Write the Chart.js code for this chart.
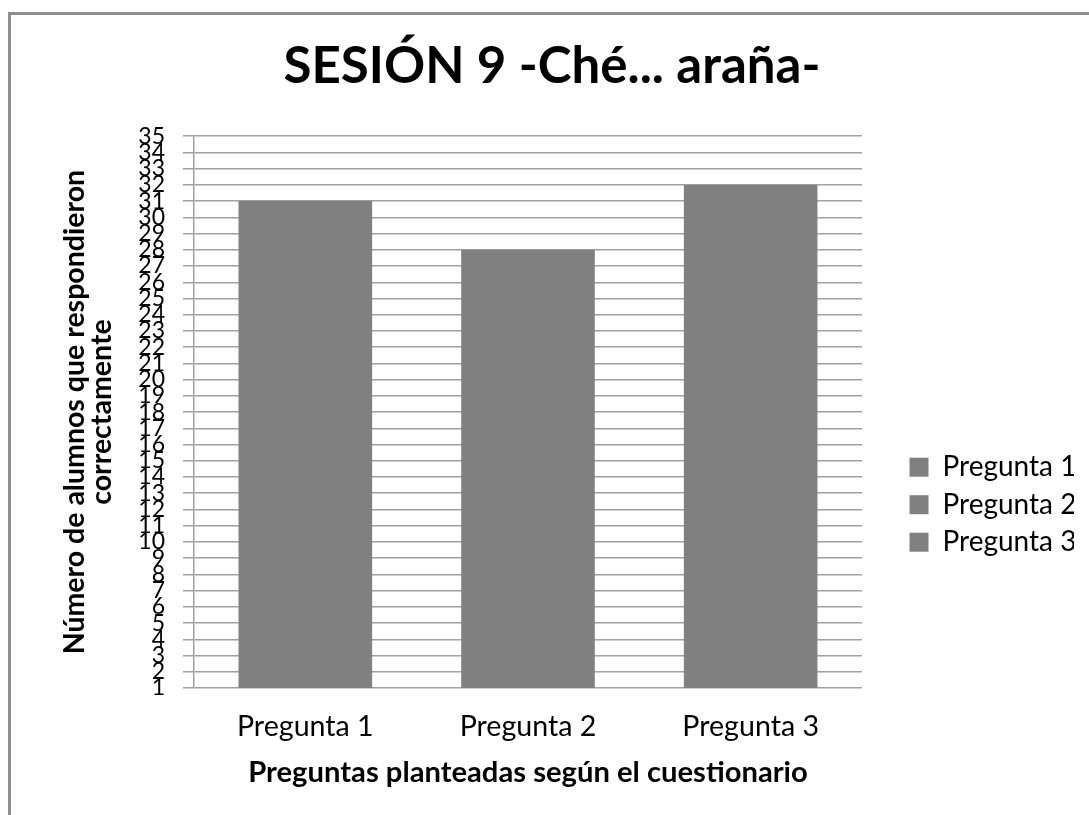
<!DOCTYPE html>
<html>
<head>
<meta charset="utf-8">
<script src="https://cdn.jsdelivr.net/npm/chart.js@4.4.0/dist/chart.umd.min.js"></script>
<style>
  html, body { margin: 0; padding: 0; background: #fff; overflow: hidden; }
  #marco {
    position: absolute; left: 8px; top: 12px;
    width: 2000px; height: 2000px;
    border: 3px solid #8e8e8e;
  }
  #grafico { position: absolute; left: 0; top: 0; }
</style>
</head>
<body>
<div id="marco"></div>
<canvas id="grafico" width="1089" height="815"></canvas>
<script>
// datos
const preguntas = ["Pregunta 1", "Pregunta 2", "Pregunta 3"];
const alumnosCorrectos = [31, 28, 32];
const ejeYMin = 1;
const ejeYMax = 35;

const gris = "#808080";
const lineaGris = "#a0a0a0";
const fuente = "Lato, 'Open Sans', sans-serif";

document.addEventListener("DOMContentLoaded", function () {
  const ctx = document.getElementById("grafico").getContext("2d");
  const myChart = new Chart(ctx, {
    type: "bar",
    data: {
      labels: preguntas,
      datasets: [
        {
          label: "Alumnos",
          data: alumnosCorrectos,
          backgroundColor: gris,
          borderWidth: 0,
          barPercentage: 0.6,
          categoryPercentage: 1,
        },
      ],
    },
    options: {
      responsive: false,
      animation: false,
      layout: {
        padding: { left: 30, right: 15, top: 0, bottom: 0 },
      },
      plugins: {
        title: {
          display: true,
          text: "SESIÓN 9 -Ché... araña-",
          color: "#000",
          font: { family: fuente, size: 51, weight: "bold" },
          padding: { top: 36, bottom: 39 },
        },
        legend: {
          position: "right",
          // titulo vacio solo para bajar los elementos de la leyenda
          title: { display: true, text: "", padding: { top: 0, bottom: 180 } },
          labels: {
            font: { family: fuente, size: 28 },
            boxWidth: 19,
            boxHeight: 19,
            padding: 9.5,
            generateLabels: function () {
              return preguntas.map((p) => ({
                text: p,
                fillStyle: gris,
                strokeStyle: gris,
                fontColor: "#000",
                lineWidth: 0,
              }));
            },
          },
        },
        tooltip: { enabled: false },
      },
      scales: {
        x: {
          grid: { display: false, drawTicks: false },
          border: { display: false },
          ticks: {
            color: "#000",
            font: { family: fuente, size: 28.6 },
            padding: 22,
          },
          title: {
            display: true,
            text: "Preguntas planteadas según el cuestionario",
            color: "#000",
            font: { family: fuente, size: 29.2, weight: "bold" },
            padding: { top: 0, bottom: 24.5 },
          },
          afterFit: function (scale) {
            scale.height = 127;
          },
        },
        y: {
          min: ejeYMin,
          max: ejeYMax,
          grid: { color: lineaGris, lineWidth: 1.5, tickLength: 11 },
          border: { color: lineaGris, width: 1.5 },
          ticks: {
            stepSize: 1,
            autoSkip: false,
            color: "#000",
            font: { family: fuente, size: 23 },
            padding: 18,
          },
          title: {
            display: true,
            text: ["Número de alumnos que respondieron", "correctamente"],
            color: "#000",
            font: { family: fuente, size: 28.5, weight: "bold", lineHeight: 0.92 },
            padding: { top: 32, bottom: 0 },
          },
          afterFit: function (scale) {
            scale.width = 164;
          },
        },
        // eje vacio: solo deja hueco entre el grafico y la leyenda
        hueco: {
          type: "linear",
          position: "right",
          display: true,
          grid: { display: false, drawTicks: false },
          border: { display: false },
          ticks: { display: false },
          afterFit: function (scale) {
            scale.width = 38;
          },
        },
      },
    },
  });
});
</script>
</body>
</html>
